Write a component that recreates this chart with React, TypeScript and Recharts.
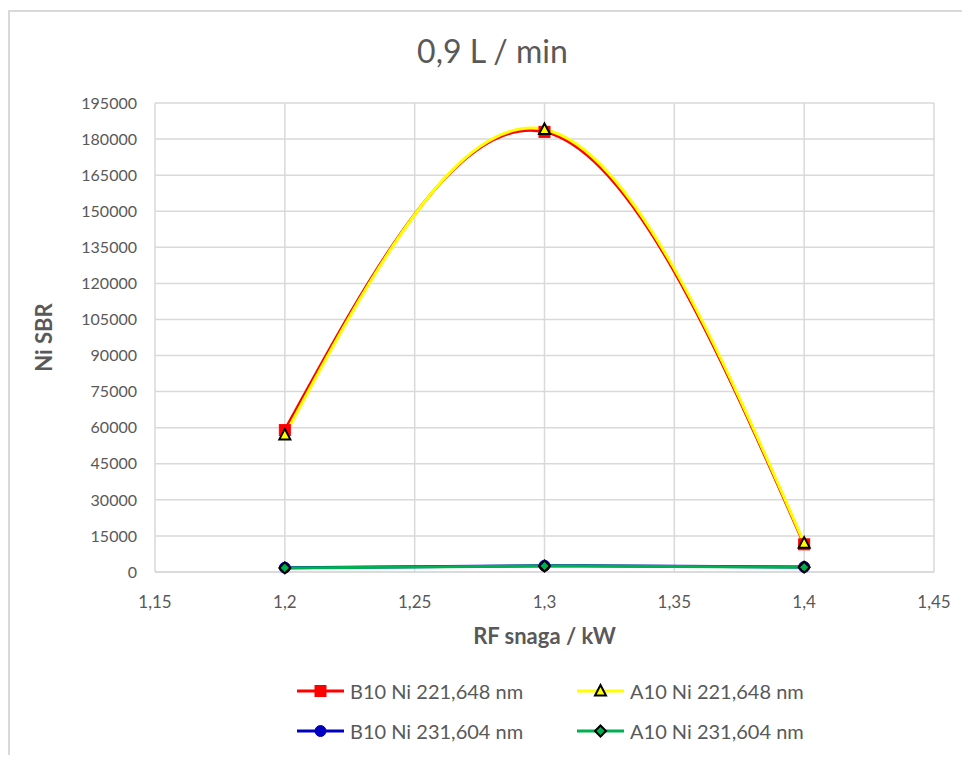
import {
  LineChart,
  Line,
  XAxis,
  YAxis,
  CartesianGrid,
  Legend,
  Label,
} from 'recharts';

// RF snaga (kW)
const rfPower = [1.2, 1.3, 1.4];

// Ni SBR po seriji
const b10Ni221 = [59000, 183000, 11500];
const a10Ni221 = [57000, 184000, 12000];
const b10Ni231 = [1800, 2600, 2100];
const a10Ni231 = [1700, 2500, 2000];

const xTicks = [1.15, 1.2, 1.25, 1.3, 1.35, 1.4, 1.45];
const yTicks = [0, 15000, 30000, 45000, 60000, 75000, 90000, 105000, 120000, 135000, 150000, 165000, 180000, 195000];

const TEXT = '#595959';
const GRID = '#d9d9d9';
const FONT = 'Lato, "Open Sans", sans-serif';

type MarkerKind = 'square' | 'triangle' | 'circle' | 'diamond';

interface SeriesDef {
  dataKey: string;
  name: string;
  color: string;
  marker: MarkerKind;
  markerFill: string;
  markerStroke: string;
}

const series: SeriesDef[] = [
  { dataKey: 'b221', name: 'B10 Ni 221,648 nm', color: '#ff0000', marker: 'square', markerFill: '#ff0000', markerStroke: '#ff0000' },
  { dataKey: 'a221', name: 'A10 Ni 221,648 nm', color: '#ffff00', marker: 'triangle', markerFill: '#ffff00', markerStroke: '#000000' },
  { dataKey: 'b231', name: 'B10 Ni 231,604 nm', color: '#0000c0', marker: 'circle', markerFill: '#0000c0', markerStroke: '#0000c0' },
  { dataKey: 'a231', name: 'A10 Ni 231,604 nm', color: '#00b050', marker: 'diamond', markerFill: '#00b050', markerStroke: '#000000' },
];

const chartData = rfPower.map((x, i) => ({
  x,
  b221: b10Ni221[i],
  a221: a10Ni221[i],
  b231: b10Ni231[i],
  a231: a10Ni231[i],
}));

const comma = (v: number) => String(v).replace('.', ',');

// oblik markera (kao u Excelu)
const Marker = ({ cx, cy, kind, fill, stroke }: { cx: number; cy: number; kind: MarkerKind; fill: string; stroke: string }) => {
  if (cx == null || cy == null) return null;
  switch (kind) {
    case 'square':
      return <rect x={cx - 5.5} y={cy - 5.5} width={11} height={11} fill={fill} stroke={stroke} strokeWidth={1} />;
    case 'triangle':
      return (
        <polygon
          points={`${cx},${cy - 6} ${cx + 5.5},${cy + 4.5} ${cx - 5.5},${cy + 4.5}`}
          fill={fill}
          stroke={stroke}
          strokeWidth={2}
        />
      );
    case 'circle':
      return <circle cx={cx} cy={cy} r={5.5} fill={fill} stroke={stroke} strokeWidth={1} />;
    case 'diamond':
      return (
        <polygon
          points={`${cx},${cy - 5.5} ${cx + 5.5},${cy} ${cx},${cy + 5.5} ${cx - 5.5},${cy}`}
          fill={fill}
          stroke={stroke}
          strokeWidth={2}
        />
      );
  }
  return null;
};

const LegendContent = () => (
  <div
    style={{
      display: 'grid',
      gridTemplateColumns: '280px 280px',
      rowGap: 18,
      fontFamily: FONT,
      fontSize: 20,
      color: TEXT,
    }}
  >
    {series.map((s) => (
      <div key={s.dataKey} style={{ display: 'flex', alignItems: 'center', height: 22 }}>
        <svg width={50} height={16} style={{ marginRight: 4 }}>
          <line x1={1} y1={8} x2={48} y2={8} stroke={s.color} strokeWidth={3} />
          <Marker cx={24.5} cy={8} kind={s.marker} fill={s.markerFill} stroke={s.markerStroke} />
        </svg>
        <span>{s.name}</span>
      </div>
    ))}
  </div>
);

export default function App() {
  return (
    <div style={{ position: 'relative', width: 970, height: 763, margin: -8, background: '#fff', overflow: 'hidden' }}>
      <div
        style={{
          position: 'absolute',
          left: 8,
          top: 10,
          width: 970,
          height: 763,
          borderLeft: `2px solid ${GRID}`,
          borderTop: `2px solid ${GRID}`,
        }}
      />
      <div
        style={{
          position: 'absolute',
          top: 31,
          left: 0,
          width: 985,
          textAlign: 'center',
          fontFamily: FONT,
          fontSize: 32,
          color: TEXT,
        }}
      >
        0,9 L / min
      </div>
      <LineChart
        width={970}
        height={763}
        data={chartData}
        margin={{ top: 103, right: 36, bottom: 0, left: 0 }}
        style={{ position: 'absolute', top: 0, left: 0, fontFamily: FONT }}
      >
        <CartesianGrid stroke={GRID} strokeWidth={1.5} />
        <XAxis
          dataKey="x"
          type="number"
          domain={[1.15, 1.45]}
          ticks={xTicks}
          tickFormatter={comma}
          axisLine={{ stroke: GRID, strokeWidth: 1.5 }}
          tickLine={false}
          tick={{ fill: TEXT, fontSize: 17 }}
          tickMargin={18}
          height={191}
          allowDataOverflow
        >
          <Label
            value="RF snaga / kW"
            position="insideTop"
            offset={56}
            style={{ fill: TEXT, fontSize: 22, fontWeight: 700 }}
          />
        </XAxis>
        <YAxis
          type="number"
          domain={[0, 195000]}
          ticks={yTicks}
          axisLine={false}
          tickLine={false}
          tick={{ fill: TEXT, fontSize: 16 }}
          tickMargin={12}
          width={155}
          interval={0}
        >
          <Label
            value="Ni SBR"
            angle={-90}
            position="insideLeft"
            offset={44}
            style={{ fill: TEXT, fontSize: 22, fontWeight: 700, textAnchor: 'middle' }}
          />
        </YAxis>
        <Legend
          layout="horizontal"
          verticalAlign="middle"
          align="center"
          content={<LegendContent />}
          wrapperStyle={{ position: 'absolute', top: 680, left: 296, width: 600, height: 70 }}
        />
        {series.map((s) => (
          <Line
            key={s.dataKey}
            type="natural"
            dataKey={s.dataKey}
            name={s.name}
            stroke={s.color}
            strokeWidth={3}
            isAnimationActive={false}
            dot={(p: any) => (
              <Marker key={`${s.dataKey}-${p.index}`} cx={p.cx} cy={p.cy} kind={s.marker} fill={s.markerFill} stroke={s.markerStroke} />
            )}
            activeDot={false}
          />
        ))}
      </LineChart>
    </div>
  );
}
